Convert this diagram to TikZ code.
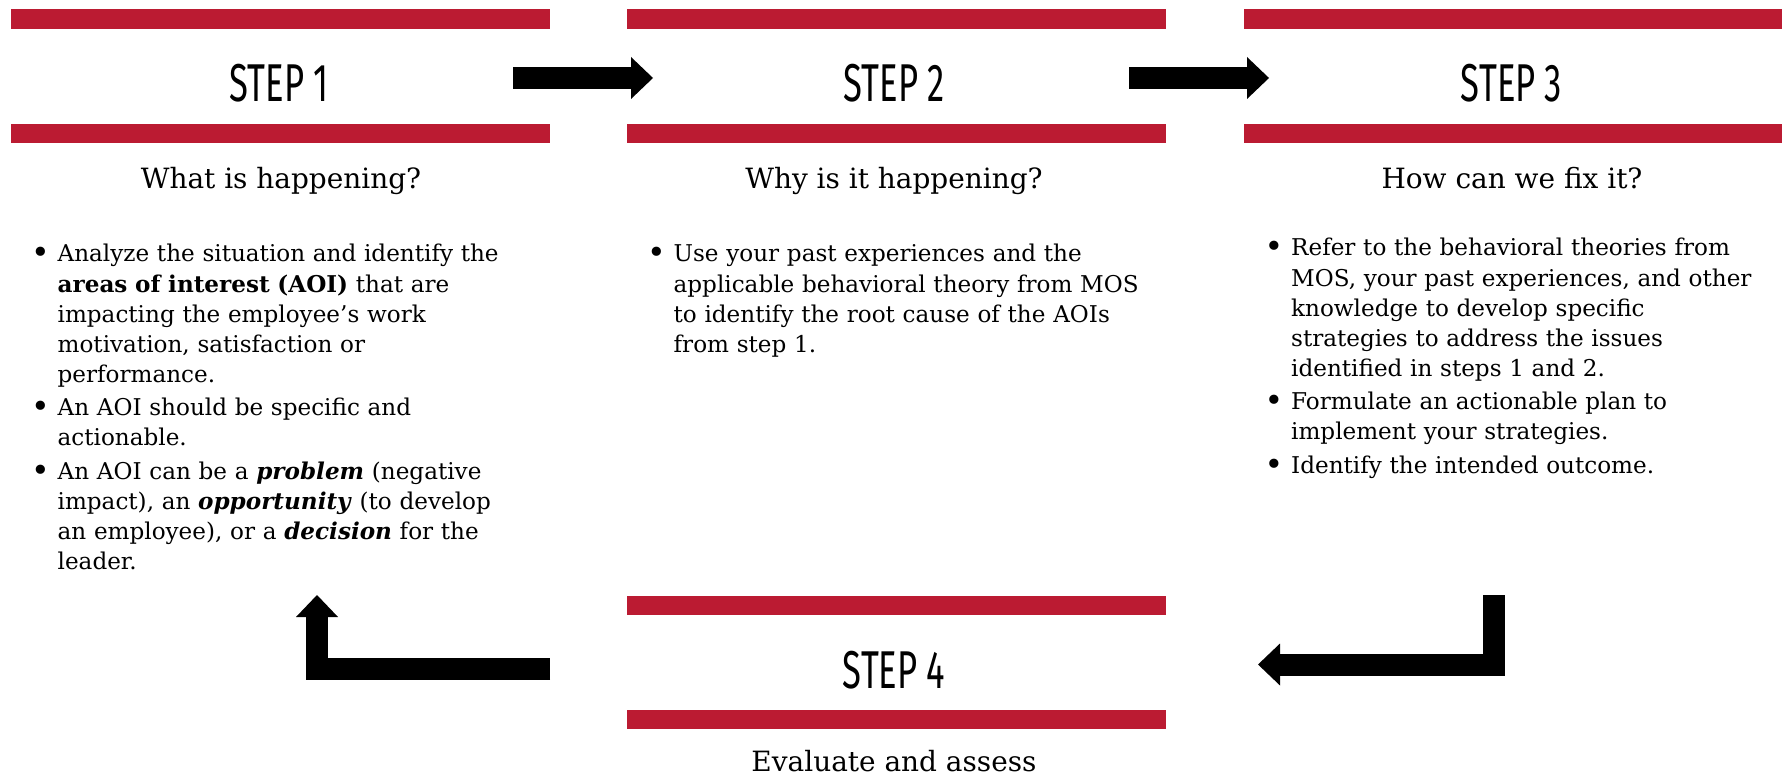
\documentclass[tikz,border=0pt]{standalone}
\usepackage{fontspec}
\setmainfont{DejaVu Serif}
\newfontfamily\stepfont[FakeStretch=0.65]{Fira Sans}
\usetikzlibrary{arrows.meta,positioning}
\definecolor{stepred}{HTML}{BB1B32}
% hand-made bullet item, hanging indent
\newcommand{\aoiitem}{\hangindent=3.46mm\hangafter=1\noindent
	\makebox[3.46mm][l]{\makebox[0pt][c]{\raisebox{-0.35mm}{\fontsize{18}{17}\selectfont\textbullet}}}}
\newcommand{\aoinext}{\par\vspace{2pt}}

\begin{document}
\begin{tikzpicture}[x=0.2mm, y=-0.2mm]
		\useasboundingbox (0,0) rectangle (1782,778);
		\begin{scope}[every node/.style={fill=stepred, minimum width=107.8mm, minimum height=3.9mm, inner sep=0pt}]
			\node (s1top) at (280.5,19) {};
			\node (s1bot) at (280.5,133.5) {};
			\node (s2top) at (896,19) {};
			\node (s2bot) at (896,133.5) {};
			\node (s3top) at (1513,19) {};
			\node (s3bot) at (1513,133.5) {};
			\node (s4top) at (896,605.5) {};
			\node (s4bot) at (896,719.5) {};
		\end{scope}
		\begin{scope}[every node/.style={inner sep=0pt, font=\stepfont\fontsize{30.3}{32}\selectfont}]
			\node (t1) at (279,83) {STEP 1};
			\node (t2) at (894,83) {STEP 2};
			\node (t3) at (1511.5,83) {STEP 3};
			\node (t4) at (894,670) {STEP 4};
		\end{scope}
		\begin{scope}[every node/.style={inner sep=0pt, anchor=base, font=\fontsize{15.9}{19}\selectfont}]
			\node (q1) at (281,189) {What is happening?};
			\node (q2) at (894,189) {Why is it happening?};
			\node (q3) at (1512,189) {How can we fix it?};
			\node (q4) at (894,771) {Evaluate and assess};
		\end{scope}
		\begin{scope}[every node/.style={inner sep=0pt, anchor=base west, text width=100mm, align=left, font=\fontsize{13.15}{17.1}\selectfont}]
			\node (b1) at (40,262) {\aoiitem Analyze the situation and identify the\newline \textbf{areas of interest (AOI)} that are\newline impacting the employee’s work\newline motivation, satisfaction or\newline performance.\aoinext
				\aoiitem An AOI should be specific and\newline actionable.\aoinext
				\aoiitem An AOI can be a \textbf{\textit{problem}} (negative\newline impact), an \textbf{\textit{opportunity}} (to develop\newline an employee), or a \textbf{\textit{decision}} for the\newline leader.\par};
			\node (b2) at (656,262) {\aoiitem Use your past experiences and the\newline applicable behavioral theory from MOS\newline to identify the root cause of the AOIs\newline from step 1.\par};
			\node (b3) at (1273.5,256) {\aoiitem Refer to the behavioral theories from\newline MOS, your past experiences, and other\newline knowledge to develop specific\newline strategies to address the issues\newline identified in steps 1 and 2.\aoinext
				\aoiitem Formulate an actionable plan to\newline implement your strategies.\aoinext
				\aoiitem Identify the intended outcome.\par};
		\end{scope}
		% arrow ends
		\coordinate (a1s) at (513,78);
		\coordinate (a1e) at (653,78);
		\coordinate (a2s) at (1129,78);
		\coordinate (a2e) at (1269,78);
		\coordinate (a3s) at (1493.5,595);
		\coordinate (a3e) at (1258,664.5);
		\coordinate (a4s) at (550,669);
		\coordinate (a4e) at (317,595);
		\begin{scope}[every path/.style={line width=4.4mm, -{Triangle[length=4.4mm, width=8.4mm, line width=0pt]}}]
			\draw (a1s) -- (a1e);
			\draw (a2s) -- (a2e);
			\draw (a3s) |- (a3e);
			\draw (a4s) -| (a4e);
		\end{scope}
	\end{tikzpicture}
\end{document}
